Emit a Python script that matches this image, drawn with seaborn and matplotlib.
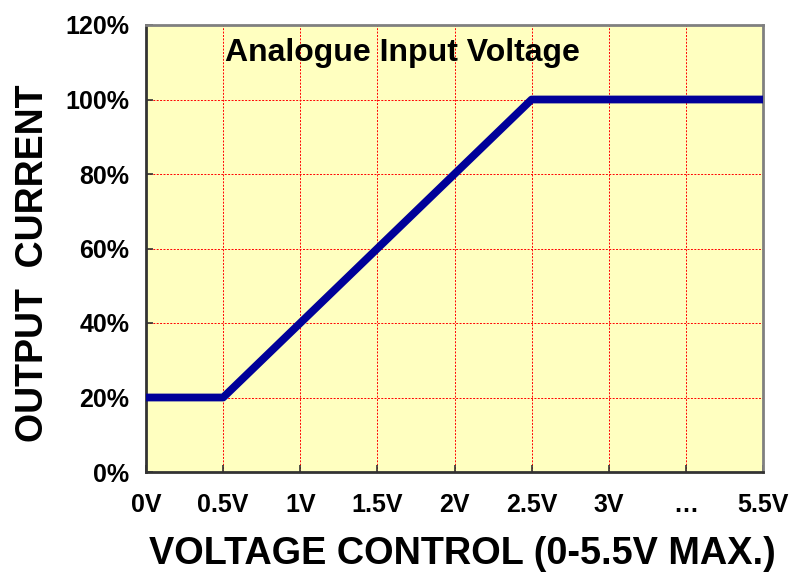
import matplotlib
matplotlib.use("Agg")
import matplotlib.pyplot as plt
import seaborn as sns
import pandas as pd

categories = ["0V", "0.5V", "1V", "1.5V", "2V", "2.5V", "3V", "…", "5.5V"]
output_pct = [20, 20, 40, 60, 80, 100, 100, 100, 100]
y_ticks = [0, 20, 40, 60, 80, 100, 120]
y_tick_labels = [f"{v}%" for v in y_ticks]

sns.set_theme(style="white")
plt.rcParams['font.family'] = ['Liberation Sans', 'DejaVu Sans']
plt.rcParams['text.color'] = 'black'
plt.rcParams['axes.labelcolor'] = 'black'
plt.rcParams['xtick.color'] = 'black'
plt.rcParams['ytick.color'] = 'black'

df = pd.DataFrame({"pos": range(len(categories)), "cat": categories, "val": output_pct})

fig = plt.figure(figsize=(7.9, 5.72), dpi=100)
ax = fig.add_axes([146/790, 1 - 472/572, (763 - 146)/790, (472 - 25)/572])
ax.set_facecolor("#FFFFC0")

sns.lineplot(data=df, x="pos", y="val", sort=False, color="#000099", linewidth=5.6,
             ax=ax, zorder=3)
ax.lines[0].set_solid_capstyle("butt")

ax.set_xlim(0, len(categories) - 1)
ax.set_ylim(0, 120)
ax.set_xticks(range(len(categories)))
ax.set_xticklabels(categories, fontsize=18, fontweight="bold")
ax.set_yticks(y_ticks)
ax.set_yticklabels(y_tick_labels, fontsize=18, fontweight="bold")

ax.grid(True, color="#FF0000", linestyle=(0, (2, 1.5)), linewidth=0.7, zorder=1)
ax.set_axisbelow(True)

ax.tick_params(axis="x", direction="in", length=5, width=1.2, color="#333333", pad=15,
               bottom=True, labelcolor="black")
ax.tick_params(axis="y", direction="in", length=5, width=1.2, color="#333333", pad=12,
               left=True, labelcolor="black")

for s in ["left", "bottom"]:
    ax.spines[s].set_color("#333333")
    ax.spines[s].set_linewidth(2)
for s in ["top", "right"]:
    ax.spines[s].set_color("#808080")
    ax.spines[s].set_linewidth(2)

ax.set_xlabel("VOLTAGE CONTROL (0-5.5V MAX.)", fontsize=27.3, fontweight="bold", labelpad=14,
              color="black")
ax.set_ylabel("OUTPUT  CURRENT", fontsize=27, fontweight="bold", labelpad=10, color="black")
ax.xaxis.label.set_x((462 - 146) / 617)
ax.yaxis.label.set_y((472 - 263) / 447)

ax.text(0.128, (472 - 53) / 447, "Analogue Input Voltage", transform=ax.transAxes,
        fontsize=23, fontweight="bold", va="center", ha="left", color="black")

fig.savefig("out.png", dpi=100)
